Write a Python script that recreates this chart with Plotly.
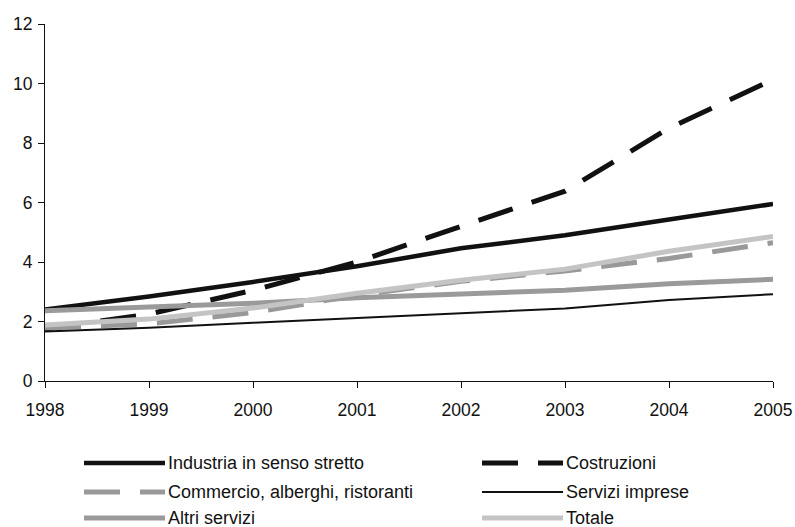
import plotly.graph_objects as go

years = [1998, 1999, 2000, 2001, 2002, 2003, 2004, 2005]
industria = [2.40, 2.84, 3.33, 3.86, 4.46, 4.90, 5.43, 5.95]
costruzioni = [1.75, 2.25, 3.05, 4.00, 5.20, 6.38, 8.50, 10.13]
commercio = [1.78, 1.92, 2.30, 2.88, 3.35, 3.70, 4.12, 4.65]
servizi_imprese = [1.66, 1.79, 1.96, 2.12, 2.29, 2.44, 2.72, 2.92]
altri_servizi = [2.36, 2.48, 2.61, 2.80, 2.93, 3.05, 3.27, 3.42]
totale = [1.88, 2.08, 2.45, 2.95, 3.39, 3.76, 4.36, 4.86]

names = ["Industria in senso stretto", "Costruzioni", "Commercio, alberghi, ristoranti",
         "Servizi imprese", "Altri servizi", "Totale"]

FONT = "Liberation Sans, Arial, sans-serif"
W, H = 795, 527
ML, MR, MT, MB = 45, 22, 24, 146
PW, PH = W - ML - MR, H - MT - MB

DASH = "36px,20px"
styles = [
    dict(color="#111111", width=4.5),
    dict(color="#111111", width=5, dash=DASH),
    dict(color="#999999", width=5, dash=DASH),
    dict(color="#111111", width=2),
    dict(color="#9a9a9a", width=5),
    dict(color="#c4c4c4", width=5),
]
values = [industria, costruzioni, commercio, servizi_imprese, altri_servizi, totale]

fig = go.Figure()
for nm, vals, ln in zip(names, values, styles):
    fig.add_trace(go.Scatter(x=years, y=vals, name=nm, mode="lines", line=ln,
                             showlegend=False, hoverinfo="skip"))

# manual legend (two columns, three rows), positions in screen pixels
col_x = [84, 482]
row_y = [463, 492, 518]
sample_len = 81


def px_x(p):
    return (p - ML) / PW


def px_y(p):
    return (H - MB - p) / PH


for i, (nm, ln) in enumerate(zip(names, styles)):
    c, r = i % 2, i // 2
    x0 = col_x[c]
    y = row_y[r]
    fig.add_shape(type="line", xref="paper", yref="paper",
                  x0=px_x(x0), x1=px_x(x0 + sample_len), y0=px_y(y), y1=px_y(y),
                  line=ln)
    fig.add_annotation(xref="paper", yref="paper", x=px_x(x0 + sample_len + 1),
                       y=px_y(y), text=nm, showarrow=False, xanchor="left",
                       yanchor="middle",
                       font=dict(family=FONT, size=18, color="#111111"))

fig.update_layout(
    width=W, height=H,
    margin=dict(l=ML, r=MR, t=MT, b=MB, autoexpand=False),
    paper_bgcolor="white", plot_bgcolor="white",
    font=dict(family=FONT, size=17.5, color="#111111"),
    showlegend=False,
    xaxis=dict(range=[1998, 2005], tickmode="array", tickvals=years,
               ticktext=[str(y) for y in years], showgrid=False, zeroline=False,
               showline=True, linecolor="#111111", linewidth=1,
               ticks="outside", ticklen=6, tickcolor="#111111",
               ticklabelstandoff=7, automargin=False,
               tickfont=dict(family=FONT, size=17.5, color="#111111")),
    yaxis=dict(range=[0, 12], tickvals=[0, 2, 4, 6, 8, 10, 12], showgrid=False,
               zeroline=False, showline=True, linecolor="#111111", linewidth=1,
               ticks="outside", ticklen=6, tickcolor="#111111",
               ticklabelstandoff=2, automargin=False,
               tickfont=dict(family=FONT, size=17.5, color="#111111")),
)

fig.write_html(
    "out.html",
    config={"displayModeBar": False},
    post_script="document.body.style.margin='0';document.body.style.overflow='hidden';",
)
